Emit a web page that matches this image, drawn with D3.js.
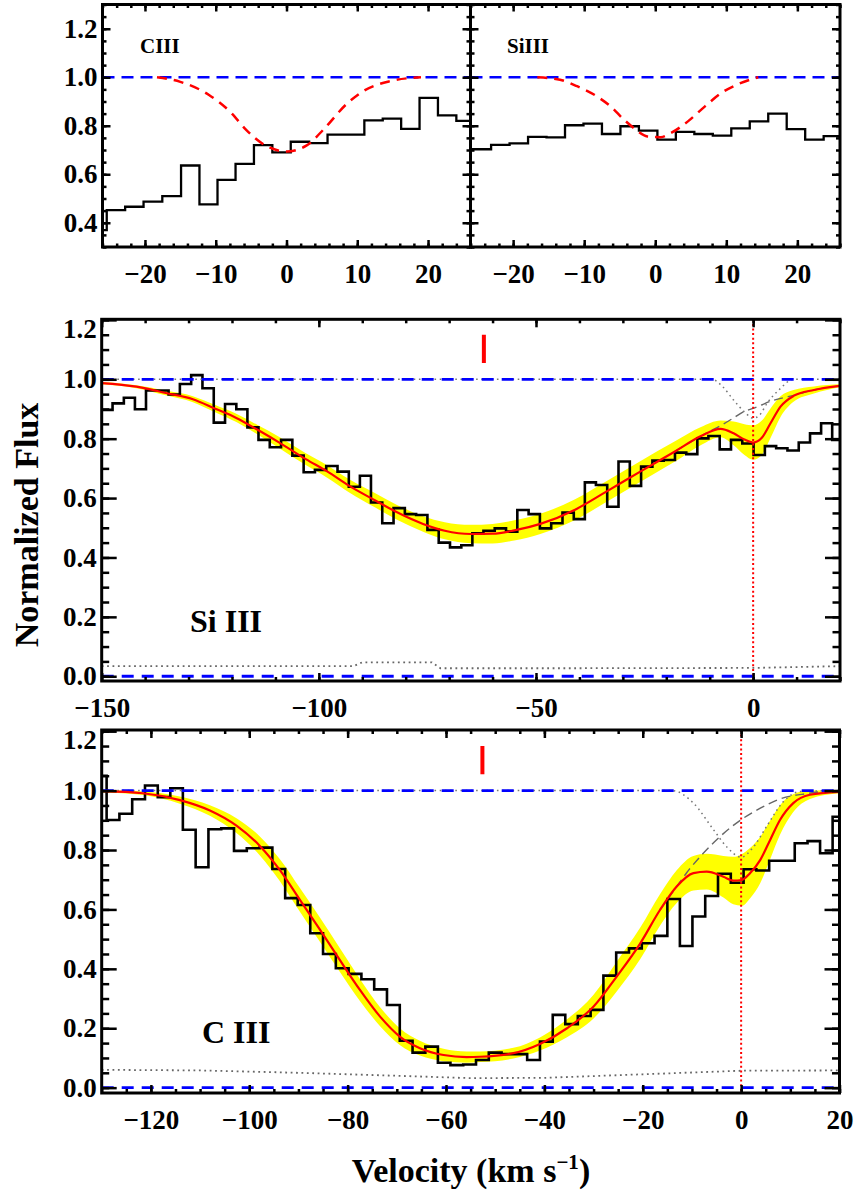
<!DOCTYPE html>
<html>
<head>
<meta charset="utf-8">
<script src="https://cdn.jsdelivr.net/npm/d3@7"></script>
<style>
  body { margin: 0; background: #fff; }
  svg { display: block; }
</style>
</head>
<body>
<div id="chart"></div>
<script>
// ---------- top panels (apparent optical depth check) ----------
const topCiiiV = [-26.7, -24.1, -21.5, -18.9, -16.2, -13.6, -11.0, -8.5, -5.9, -3.3, -0.7, 1.9, 4.5, 7.1, 9.7, 12.3, 14.9, 17.5, 20.1, 22.7, 25.3, 27.9];
const topCiiiF = [0.37, 0.452, 0.466, 0.487, 0.51, 0.636, 0.476, 0.577, 0.643, 0.72, 0.69, 0.734, 0.728, 0.763, 0.763, 0.822, 0.829, 0.787, 0.915, 0.843, 0.82, 0.82];
const topCiiiModelV = [-18.3, -15.0, -11.0, -7.8, -5.7, -3.1, 0, 2.8, 5.4, 8.4, 10.8, 14.5, 19.0];
const topCiiiModelF = [1.0, 0.981, 0.928, 0.853, 0.783, 0.721, 0.694, 0.718, 0.79, 0.887, 0.942, 0.983, 1.0];

const topSiiiV = [-27.0, -24.4, -21.8, -19.2, -16.6, -14.0, -11.4, -8.8, -6.2, -3.6, -1.0, 1.6, 4.2, 6.8, 9.4, 12.0, 14.6, 17.2, 19.8, 22.4, 25.0, 27.6];
const topSiiiF = [0.70, 0.703, 0.721, 0.727, 0.754, 0.752, 0.802, 0.809, 0.766, 0.798, 0.78, 0.743, 0.775, 0.766, 0.759, 0.789, 0.818, 0.85, 0.786, 0.743, 0.757, 0.757];
const topSiiiModelV = [-16.6, -13.4, -11.0, -8.2, -6.3, -4.4, -3.0, -1.1, 0.8, 2.2, 4.6, 7.0, 9.3, 11.7, 14.5];
const topSiiiModelF = [1.0, 0.99, 0.963, 0.921, 0.88, 0.825, 0.79, 0.756, 0.753, 0.77, 0.818, 0.88, 0.935, 0.972, 1.0];

// ---------- Si III panel ----------
const siiiV = [-151.4, -148.8, -146.2, -143.6, -141.1, -138.5, -135.9, -133.3, -130.7, -128.1, -125.5, -122.9, -120.3, -117.7, -115.2, -112.6, -110.0, -107.4, -104.8, -102.2, -99.6, -97.0, -94.4, -91.8, -89.3, -86.7, -84.1, -81.5, -78.9, -76.3, -73.7, -71.1, -68.5, -65.9, -63.4, -60.8, -58.2, -55.6, -53.0, -50.4, -47.8, -45.2, -42.6, -40.0, -37.5, -34.9, -32.3, -29.7, -27.1, -24.5, -21.9, -19.3, -16.7, -14.1, -11.6, -9.0, -6.4, -3.8, -1.2, 1.4, 4.0, 6.6, 9.2, 11.8, 14.4, 16.9, 19.5, 22.1];
const siiiF = [0.89, 0.897, 0.919, 0.938, 0.899, 0.962, 0.962, 0.949, 0.984, 1.014, 0.970, 0.854, 0.917, 0.899, 0.838, 0.796, 0.771, 0.796, 0.743, 0.687, 0.695, 0.708, 0.689, 0.638, 0.675, 0.585, 0.515, 0.566, 0.546, 0.543, 0.493, 0.450, 0.434, 0.441, 0.481, 0.490, 0.498, 0.487, 0.560, 0.546, 0.498, 0.515, 0.551, 0.529, 0.653, 0.644, 0.571, 0.723, 0.641, 0.706, 0.726, 0.728, 0.753, 0.748, 0.801, 0.809, 0.764, 0.796, 0.784, 0.745, 0.775, 0.768, 0.760, 0.787, 0.818, 0.852, 0.796, 0.80];
const siiiModelV = [-150, -142, -135, -129, -124, -119, -114, -109, -103, -98, -93, -87, -82, -76, -71, -65, -60, -55, -49, -41, -34, -26, -18, -12, -7.5, -4.5, -2, 0, 2, 4, 6.3, 9.3, 14, 20];
const siiiModelF = [0.987, 0.975, 0.953, 0.933, 0.902, 0.870, 0.829, 0.786, 0.731, 0.689, 0.641, 0.592, 0.552, 0.513, 0.490, 0.479, 0.480, 0.491, 0.513, 0.561, 0.620, 0.689, 0.757, 0.809, 0.833, 0.818, 0.797, 0.787, 0.803, 0.852, 0.908, 0.944, 0.964, 0.978];
const siiiModelErr = [0.004, 0.005, 0.008, 0.010, 0.012, 0.014, 0.016, 0.019, 0.020, 0.021, 0.022, 0.024, 0.025, 0.026, 0.029, 0.031, 0.033, 0.034, 0.034, 0.035, 0.035, 0.035, 0.034, 0.030, 0.028, 0.040, 0.052, 0.058, 0.058, 0.050, 0.035, 0.020, 0.012, 0.005];
const siiiBroadV = [-18, -12, -9.8, -7, -4.5, -2.2, 0, 1.7, 4, 7, 9.3, 14, 20];
const siiiBroadF = [0.757, 0.809, 0.826, 0.848, 0.870, 0.891, 0.902, 0.912, 0.926, 0.938, 0.946, 0.964, 0.978];
const siiiNarrowV = [-150, -9.5, -7, -4.5, -2, 0, 1.5, 3.2, 6, 9.3, 20];
const siiiNarrowF = [1.0, 1.0, 0.975, 0.930, 0.89, 0.869, 0.88, 0.919, 0.965, 1.0, 1.0];
const siiiErrV = [-150, -92, -90, -74, -72, -40, 0, 20];
const siiiErrF = [0.034, 0.034, 0.047, 0.047, 0.027, 0.027, 0.028, 0.034];
const siiiMarkV = -62.0;

// ---------- C III panel ----------
const ciiiV = [-130.3, -127.7, -125.1, -122.5, -119.9, -117.3, -114.8, -112.2, -109.6, -107.0, -104.4, -101.8, -99.2, -96.6, -94.0, -91.4, -88.9, -86.3, -83.7, -81.1, -78.5, -75.9, -73.3, -70.7, -68.1, -65.5, -62.9, -60.4, -57.8, -55.2, -52.6, -50.0, -47.4, -44.8, -42.2, -39.6, -37.0, -34.5, -31.9, -29.3, -26.7, -24.1, -21.5, -18.9, -16.3, -13.7, -11.2, -8.6, -6.0, -3.4, -0.8, 1.8, 4.4, 7.0, 9.6, 12.2, 14.8, 17.3, 19.9, 22.5];
const ciiiF = [1.05, 0.901, 0.922, 0.971, 1.017, 0.978, 1.008, 0.868, 0.742, 0.870, 0.873, 0.797, 0.806, 0.808, 0.736, 0.638, 0.615, 0.520, 0.450, 0.402, 0.383, 0.365, 0.331, 0.278, 0.158, 0.118, 0.138, 0.084, 0.076, 0.078, 0.093, 0.118, 0.113, 0.113, 0.093, 0.155, 0.245, 0.214, 0.241, 0.262, 0.377, 0.455, 0.469, 0.486, 0.511, 0.635, 0.477, 0.576, 0.645, 0.720, 0.690, 0.735, 0.731, 0.764, 0.764, 0.823, 0.830, 0.789, 0.912, 0.92];
const ciiiModelV = [-130, -121.6, -114.1, -108, -102.6, -97.8, -93.8, -89.7, -85.6, -81.6, -77.5, -73.4, -69.4, -65.3, -60.5, -55.8, -53.1, -46.3, -40.9, -35.4, -30, -25.3, -20.5, -16.5, -13.1, -9.7, -7, -3.6, -1.6, 0.1, 1.8, 3.9, 5.9, 7.9, 10.6, 14, 20];
const ciiiModelF = [0.998, 0.991, 0.968, 0.933, 0.882, 0.813, 0.733, 0.632, 0.531, 0.430, 0.329, 0.239, 0.172, 0.133, 0.110, 0.103, 0.104, 0.116, 0.147, 0.200, 0.273, 0.374, 0.486, 0.598, 0.677, 0.722, 0.727, 0.710, 0.697, 0.699, 0.722, 0.767, 0.834, 0.901, 0.958, 0.986, 0.996];
const ciiiModelErr = [0.004, 0.006, 0.012, 0.018, 0.025, 0.032, 0.037, 0.040, 0.041, 0.040, 0.037, 0.032, 0.028, 0.025, 0.021, 0.019, 0.018, 0.018, 0.022, 0.030, 0.040, 0.050, 0.053, 0.053, 0.055, 0.058, 0.060, 0.070, 0.080, 0.087, 0.085, 0.078, 0.065, 0.050, 0.030, 0.014, 0.005];
const ciiiBroadV = [-16.5, -13.1, -11, -8.3, -4.3, 0, 3.9, 7.9, 13.4, 17.4, 20];
const ciiiBroadF = [0.598, 0.677, 0.725, 0.778, 0.845, 0.902, 0.941, 0.972, 0.99, 0.998, 1.0];
const ciiiNarrowV = [-130, -14, -9.7, -5.6, -2.9, 0, 2.5, 5.2, 8.6, 12, 20];
const ciiiNarrowF = [1.0, 1.0, 0.958, 0.868, 0.81, 0.776, 0.81, 0.88, 0.963, 0.997, 1.0];
const ciiiErrV = [-130, -110, -90, -70, -55, -40, -20, 0, 20];
const ciiiErrF = [0.060, 0.058, 0.050, 0.040, 0.032, 0.033, 0.045, 0.057, 0.058];
const ciiiMarkV = -52.6;

const continuum = 1.0;
const zeroLevel = 0.0;

const W = 857, H = 1191;
const serif = "'Liberation Serif', 'Times New Roman', Times, serif";

const svg = d3.select("#chart").append("svg")
    .attr("width", W)
    .attr("height", H)
    .style("font-family", serif)
    .style("font-weight", "bold");

svg.append("rect").attr("width", W).attr("height", H).attr("fill", "#fff");

const zip = (vs, fs) => vs.map((v, i) => ({ v, f: fs[i] }));

function makePanel(id, box, xDomain, yDomain) {
    const x = d3.scaleLinear().domain(xDomain).range([box.left, box.right]);
    const y = d3.scaleLinear().domain(yDomain).range([box.bottom, box.top]);
    svg.append("clipPath").attr("id", id)
        .append("rect")
        .attr("x", box.left).attr("y", box.top)
        .attr("width", box.right - box.left).attr("height", box.bottom - box.top);
    const g = svg.append("g").attr("clip-path", `url(#${id})`);
    return { x, y, g, box };
}

// IDL style frame: ticks inward on all four sides
function drawAxes(p, cfg) {
    const { x, y, box } = p;
    const add = (axis, tx, ty) => {
        const a = svg.append("g")
            .attr("transform", `translate(${tx},${ty})`)
            .call(axis)
            .attr("font-family", serif)
            .attr("font-size", 27)
            .attr("font-weight", "bold");
        a.select(".domain").remove();
        a.selectAll(".tick line").attr("stroke", "#000").attr("stroke-width", 2.5);
        return a;
    };
    const fx = d3.format("d"), fy = d3.format(".1f");
    add(d3.axisBottom(x).tickValues(cfg.xMajor).tickSize(-cfg.xLen).tickPadding(17)
        .tickFormat(cfg.xLabels ? fx : ""), 0, box.bottom);
    add(d3.axisBottom(x).tickValues(cfg.xMinor).tickSize(-cfg.xLen / 2).tickFormat(""), 0, box.bottom);
    add(d3.axisTop(x).tickValues(cfg.xMajor).tickSize(-cfg.xLen).tickFormat(""), 0, box.top);
    add(d3.axisTop(x).tickValues(cfg.xMinor).tickSize(-cfg.xLen / 2).tickFormat(""), 0, box.top);

    const yl = add(d3.axisLeft(y).tickValues(cfg.yMajor).tickSize(-cfg.yLen).tickPadding(5)
        .tickFormat(cfg.yLabels ? fy : ""), box.left, 0);
    yl.selectAll(".tick text").attr("y", d => (y(d) - box.top < 8 ? 9 : 0));
    add(d3.axisLeft(y).tickValues(cfg.yMinor).tickSize(-cfg.yLen / 2).tickFormat(""), box.left, 0);
    add(d3.axisRight(y).tickValues(cfg.yMajor).tickSize(-cfg.yLen).tickFormat(""), box.right, 0);
    add(d3.axisRight(y).tickValues(cfg.yMinor).tickSize(-cfg.yLen / 2).tickFormat(""), box.right, 0);

    svg.append("rect")
        .attr("x", box.left).attr("y", box.top)
        .attr("width", box.right - box.left).attr("height", box.bottom - box.top)
        .attr("fill", "none").attr("stroke", "#000").attr("stroke-width", 3);
}

function hline(p, level, color, width, dash) {
    p.g.append("line")
        .attr("x1", p.x.range()[0]).attr("x2", p.x.range()[1])
        .attr("y1", p.y(level)).attr("y2", p.y(level))
        .attr("stroke", color).attr("stroke-width", width)
        .attr("stroke-dasharray", dash);
}

function pathLine(p, data, curve, attrs) {
    const line = d3.line().x(d => p.x(d.v)).y(d => p.y(d.f)).curve(curve);
    const el = p.g.append("path").datum(data).attr("d", line).attr("fill", "none");
    Object.entries(attrs).forEach(([k, v]) => el.attr(k, v));
    return el;
}

// ---------------- top panels ----------------
const topYMajor = [0.4, 0.6, 0.8, 1.0, 1.2];
const topYMinor = d3.range(0.3, 1.301, 0.05);
const topXMajor = [-20, -10, 0, 10, 20];
const topXMinor = d3.range(-26, 27, 2);

function topPanel(id, box, v, f, mv, mf, label, labelX, yLabels) {
    const p = makePanel(id, box, [-26, 26], [0.3, 1.3]);
    pathLine(p, zip(v, f), d3.curveStep, { stroke: "#000", "stroke-width": 2.3 });
    hline(p, continuum, "#0000ff", 2.5, "12,7");
    pathLine(p, zip(mv, mf), d3.curveMonotoneX, { stroke: "#ff0000", "stroke-width": 2.5, "stroke-dasharray": "10,7" });
    svg.append("text").attr("x", labelX).attr("y", 53).attr("font-size", 21).text(label);
    drawAxes(p, { xMajor: topXMajor, xMinor: topXMinor, yMajor: topYMajor, yMinor: topYMinor,
                  xLen: 7, yLen: 8, xLabels: true, yLabels });
}

topPanel("clipTL", { left: 102.5, right: 470.5, top: 4.5, bottom: 247 },
    topCiiiV, topCiiiF, topCiiiModelV, topCiiiModelF, "CIII", 140, true);
topPanel("clipTR", { left: 470.5, right: 840, top: 4.5, bottom: 247 },
    topSiiiV, topSiiiF, topSiiiModelV, topSiiiModelF, "SiIII", 507, false);

// ---------------- fit panels ----------------
const fitYMajor = [0, 0.2, 0.4, 0.6, 0.8, 1.0, 1.2];
const fitYMinor = d3.range(0, 1.201, 0.05);

function fitPanel(id, box, xDomain, yDomain, s, axisCfg) {
    const p = makePanel(id, box, xDomain, yDomain);
    const model = s.mv.map((v, i) => ({ v, f: s.mf[i], e: s.me[i] }));

    const band = d3.area()
        .x(d => p.x(d.v))
        .y0(d => p.y(d.f - d.e))
        .y1(d => p.y(d.f + d.e))
        .curve(d3.curveMonotoneX);
    p.g.append("path").datum(model).attr("d", band).attr("fill", "#ffff00");

    pathLine(p, zip(s.v, s.f), d3.curveStep, { stroke: "#000", "stroke-width": 2.6 });
    pathLine(p, zip(s.ev, s.ef), d3.curveLinear, { stroke: "#666", "stroke-width": 1.8, "stroke-dasharray": "1.8,3.6" });
    pathLine(p, zip(s.nv, s.nf), d3.curveMonotoneX, { stroke: "#777", "stroke-width": 1.5, "stroke-dasharray": "1.6,3.6" });
    pathLine(p, zip(s.bv, s.bf), d3.curveMonotoneX, { stroke: "#666", "stroke-width": 1.4, "stroke-dasharray": "9,5" });
    hline(p, continuum, "#0000ff", 2.8, "12,8");
    hline(p, zeroLevel, "#0000ff", 2.8, "12,8");
    pathLine(p, model, d3.curveMonotoneX, { stroke: "#ff0000", "stroke-width": 2.2 });

    p.g.append("line")
        .attr("x1", p.x(0)).attr("x2", p.x(0))
        .attr("y1", box.top).attr("y2", box.bottom)
        .attr("stroke", "#ff0000").attr("stroke-width", 2).attr("stroke-dasharray", "2,2.6");

    p.g.append("line")
        .attr("x1", p.x(s.mark)).attr("x2", p.x(s.mark))
        .attr("y1", p.y(1.055)).attr("y2", p.y(1.15))
        .attr("stroke", "#ff0000").attr("stroke-width", 4);

    svg.append("text").attr("x", s.labelX).attr("y", s.labelY).attr("font-size", 32).text(s.label);
    drawAxes(p, Object.assign({ yMajor: fitYMajor, yMinor: fitYMinor, xLen: 8, yLen: 15, xLabels: true, yLabels: true }, axisCfg));
    return p;
}

fitPanel("clipMid", { left: 101.7, right: 840, top: 319.3, bottom: 681 }, [-150, 20], [-0.016, 1.202],
    { v: siiiV, f: siiiF, mv: siiiModelV, mf: siiiModelF, me: siiiModelErr,
      bv: siiiBroadV, bf: siiiBroadF, nv: siiiNarrowV, nf: siiiNarrowF,
      ev: siiiErrV, ef: siiiErrF, mark: siiiMarkV, label: "Si III", labelX: 190, labelY: 632 },
    { xMajor: [-150, -100, -50, 0], xMinor: d3.range(-150, 21, 10) });

fitPanel("clipBot", { left: 101.7, right: 839.5, top: 730, bottom: 1093 }, [-130, 20], [-0.018, 1.204],
    { v: ciiiV, f: ciiiF, mv: ciiiModelV, mf: ciiiModelF, me: ciiiModelErr,
      bv: ciiiBroadV, bf: ciiiBroadF, nv: ciiiNarrowV, nf: ciiiNarrowF,
      ev: ciiiErrV, ef: ciiiErrF, mark: ciiiMarkV, label: "C III", labelX: 202, labelY: 1043 },
    { xMajor: [-120, -100, -80, -60, -40, -20, 0, 20], xMinor: d3.range(-130, 21, 5) });

// axis titles
svg.append("text")
    .attr("transform", "translate(38,525) rotate(-90)")
    .attr("text-anchor", "middle")
    .attr("font-size", 34)
    .text("Normalized Flux");

const xt = svg.append("text")
    .attr("x", 471).attr("y", 1182)
    .attr("text-anchor", "middle")
    .attr("font-size", 34);
xt.append("tspan").text("Velocity (km s");
xt.append("tspan").attr("dy", -13).attr("font-size", 21).text("−1");
xt.append("tspan").attr("dy", 13).text(")");
</script>
</body>
</html>
